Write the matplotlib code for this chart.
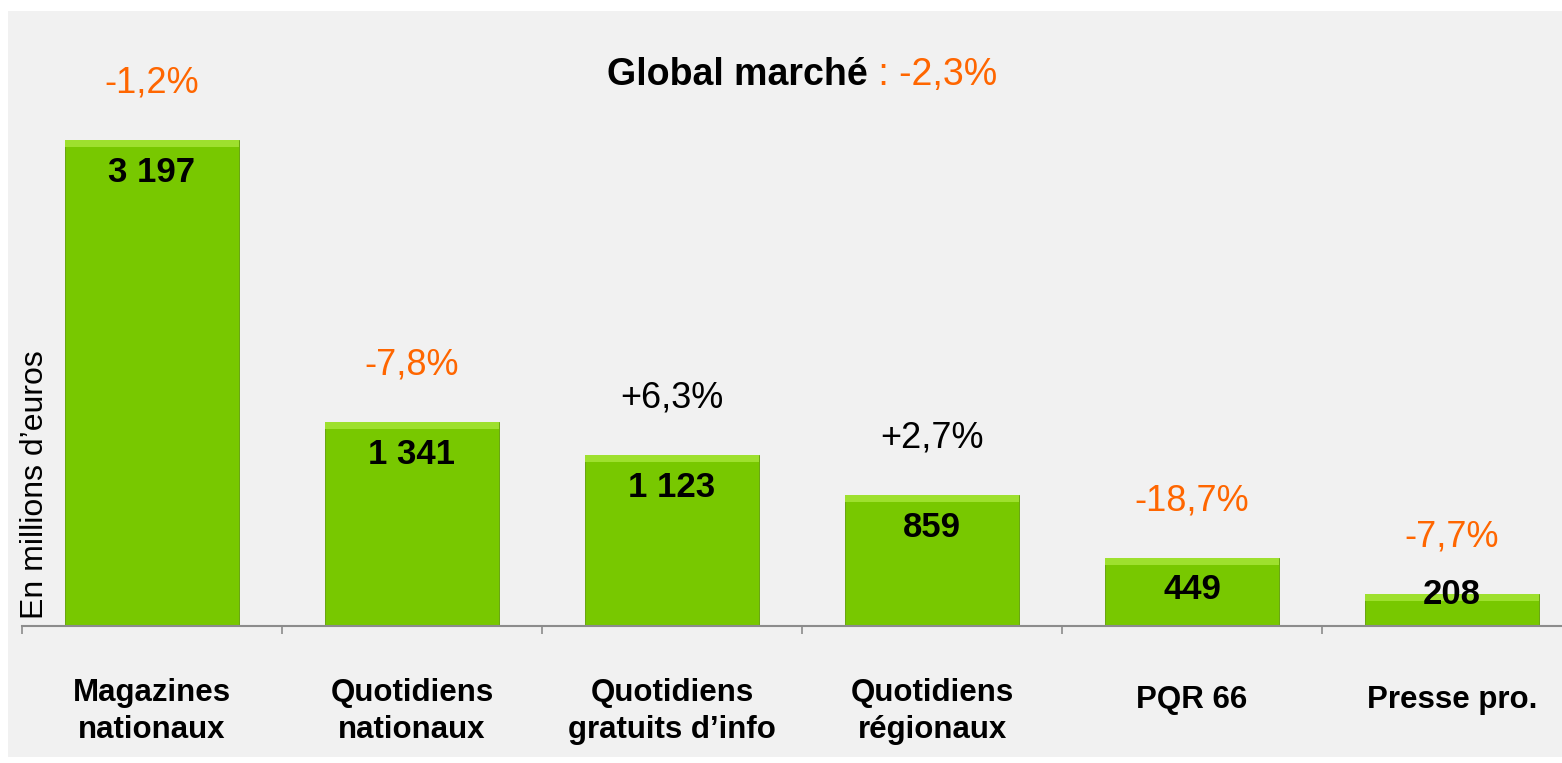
import matplotlib.pyplot as plt
from matplotlib.patches import Rectangle

# Data
categories = ["Magazines\nnationaux", "Quotidiens\nnationaux", "Quotidiens\ngratuits d\u2019info",
              "Quotidiens\nrégionaux", "PQR 66", "Presse pro."]
values = [3197, 1341, 1123, 859, 449, 208]
value_labels = ["3 197", "1 341", "1 123", "859", "449", "208"]
changes = ["-1,2%", "-7,8%", "+6,3%", "+2,7%", "-18,7%", "-7,7%"]

ORANGE = "#ff6600"
GREEN = "#78c800"
LIGHT = "#9ee02e"
DARK = "#5c9c00"

plt.rcParams['font.family'] = ['Liberation Sans', 'DejaVu Sans']

W, H = 1562, 763
fig = plt.figure(figsize=(W / 100, H / 100), dpi=100)
fig.patch.set_facecolor("white")
# light grey panel behind the chart
fig.patches.append(Rectangle((8 / W, 1 - 757 / H), 1, (757 - 11) / H,
                             transform=fig.transFigure, facecolor="#f1f1f1",
                             edgecolor="none", zorder=-5))

ax = fig.add_axes([22 / W, 1 - 626 / H, 1560 / W, (626 - 11) / H])
ax.set_facecolor("none")
ax.set_zorder(1)
px = 0.152  # pixels per unit
ax.set_ylim(0, (626 - 11) / px)
ax.set_xlim(-0.5, len(values) - 0.5)

x = range(len(values))
ax.bar(x, values, width=0.67, color=GREEN, edgecolor=DARK, linewidth=0.6, zorder=2)
# bevel highlight on the top of each bar
band = 7 / px
ax.bar(x, [band] * len(values), bottom=[v - band for v in values], width=0.67,
       color=LIGHT, linewidth=0, zorder=3)

for i, v in enumerate(values):
    off = -32 if v * px > 60 else 0
    ax.annotate(value_labels[i], (i, v), xytext=(0, off * 0.72), textcoords="offset points",
                ha="center", va="center", fontsize=25, fontweight="bold", color="black", zorder=4)
    col = "black" if changes[i].startswith("+") else ORANGE
    ax.annotate(changes[i], (i, v), xytext=(0, 57 * 0.72), textcoords="offset points",
                ha="center", va="center", fontsize=26, color=col, zorder=4)
    if "\n" in categories[i]:
        ax.text(i, -52 / px, categories[i], ha="center", va="top", fontsize=22.5,
                fontweight="bold", linespacing=1.3, clip_on=False)
    else:
        ax.text(i, -74 / px, categories[i], ha="center", va="center", fontsize=22.5,
                fontweight="bold", clip_on=False)

# axes styling
for s in ["top", "right", "left"]:
    ax.spines[s].set_visible(False)
ax.spines["bottom"].set_color("#8c8c8c")
ax.spines["bottom"].set_linewidth(1.5)
ax.set_yticks([])
ax.set_xticks([])
ax.set_xticks([i - 0.5 for i in range(len(values) + 1)], minor=True)
ax.tick_params(axis="x", which="minor", length=6, width=1.2, color="#8c8c8c", direction="out")
ax.set_xticklabels([], minor=True)

fig.text(35 / W, 1 - 485 / H, "En millions d\u2019euros", rotation=90, ha="center", va="center",
         fontsize=23)

# title: bold part + orange part
t1 = fig.text(607 / W, 1 - 75 / H, "Global marché", fontsize=27, fontweight="bold",
              ha="left", va="center")
fig.canvas.draw()
bb = t1.get_window_extent()
fig.text(bb.x1 / W, 1 - 75 / H, " : -2,3%", fontsize=27, color=ORANGE, ha="left", va="center")

fig.savefig("out.png", dpi=100)
